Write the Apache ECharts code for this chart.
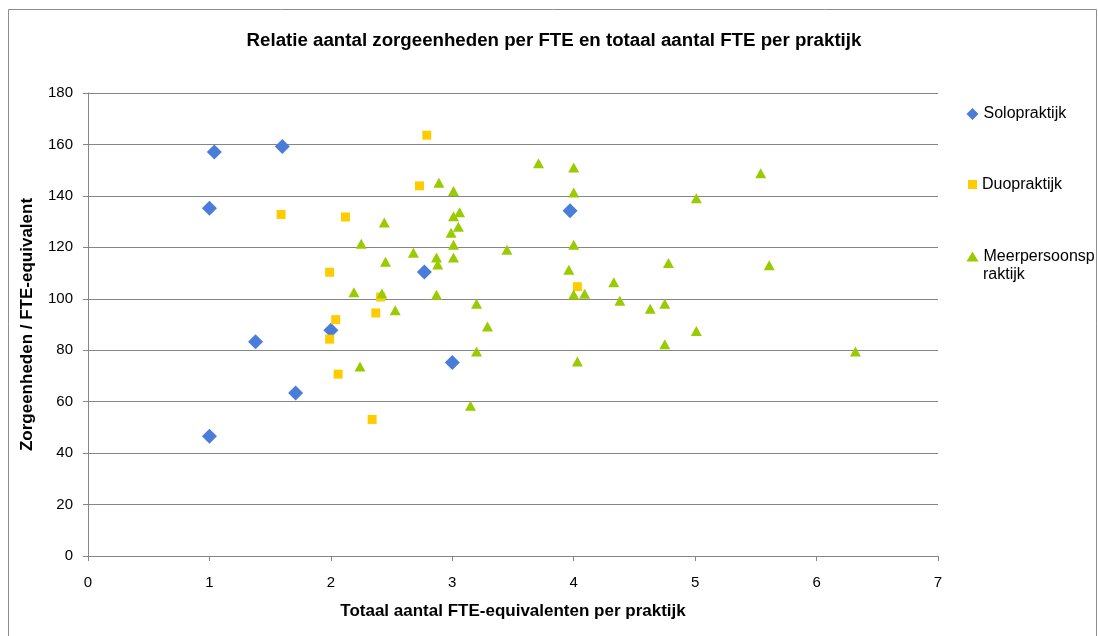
<!DOCTYPE html>
<html><head><meta charset="utf-8">
<script src="https://cdn.jsdelivr.net/npm/echarts@6/dist/echarts.min.js"></script>
<style>html,body{margin:0;padding:0;background:#fff}#c{width:1098px;height:636px}</style>
</head><body><div id="c"></div>
<script>
const seriesNames = ['Solopraktijk', 'Duopraktijk', 'Meerpersoonspraktijk'];
const legendLabels = ['Solopraktijk', 'Duopraktijk', 'Meerpersoonsp'];
const legendSecondLine = 'raktijk';
const xTicks = [0, 1, 2, 3, 4, 5, 6, 7];
const yTicks = [0, 20, 40, 60, 80, 100, 120, 140, 160, 180];

const soloX = [1.00, 1.04, 1.60, 3.97, 2.77, 1.38, 2.00, 1.71, 3.00, 1.00];
const soloY = [135.2, 157.1, 159.2, 134.2, 110.4, 83.3, 87.8, 63.4, 75.2, 46.6];

const duoX = [2.79, 2.73, 1.59, 2.12, 1.99, 2.41, 2.37, 2.04, 1.99, 2.06, 2.34, 4.03];
const duoY = [163.6, 143.9, 132.8, 131.8, 110.3, 100.7, 94.5, 91.9, 84.3, 70.7, 53.1, 104.7];

const meerX = [2.89, 3.01, 3.06, 3.01, 2.44, 3.05, 2.99, 2.25, 3.01, 2.68, 2.87, 3.01, 2.45, 2.88,
  2.19, 2.42, 2.87, 3.20, 2.53, 3.29, 2.24, 3.20, 3.15,
  3.71, 4.00, 5.54, 4.00, 5.01, 3.45, 4.00, 4.78, 5.61, 3.96, 4.33, 4.00, 4.09, 4.38, 4.75, 4.63,
  5.01, 4.75, 6.32, 4.03];
const meerY = [145.1, 141.9, 133.6, 132.1, 129.7, 128.0, 125.7, 121.4, 121.0, 117.9, 116.0, 116.0, 114.4, 113.3,
  102.5, 102.1, 101.6, 98.1, 95.5, 89.2, 73.7, 79.5, 58.4,
  152.7, 151.0, 148.8, 141.3, 139.1, 119.1, 121.0, 113.9, 113.0, 111.3, 106.4, 101.7, 102.0, 99.2, 98.1, 96.1,
  87.5, 82.3, 79.5, 75.6];

const zip = (xs, ys) => xs.map((x, i) => [x, ys[i]]);
const FONT = '"Liberation Sans", Arial, sans-serif';
const GRID = '#868686';

const chart = echarts.init(document.getElementById('c'), null, {renderer: 'canvas'});
const legendTops = [104.5, 175, 247];
const legendLefts = [966.5, 968, 966.5];
const legendIcons = ['diamond', 'rect', 'triangle'];
const legendSizes = [[12, 12], [9, 9], [12, 10]];

chart.setOption({
  animation: false,
  backgroundColor: '#fff',
  graphic: [{
    type: 'rect', silent: true, z: -1,
    shape: {x: 8.5, y: 9.5, width: 1088, height: 640},
    style: {fill: 'none', stroke: '#8c8c8c', lineWidth: 1}
  }, {
    type: 'text', silent: true,
    x: 983, y: 275,
    style: {text: legendSecondLine, font: '16px ' + FONT, fill: '#000', verticalAlign: 'middle'}
  }],
  title: {
    text: 'Relatie aantal zorgeenheden per FTE en totaal aantal FTE per praktijk',
    left: 554, top: 31.5, textAlign: 'center', padding: 0,
    textStyle: {fontFamily: FONT, fontSize: 18.7, fontWeight: 'bold', color: '#000'}
  },
  legend: seriesNames.map((n, i) => ({
    data: [{name: n, icon: legendIcons[i]}],
    left: legendLefts[i], top: legendTops[i], padding: 0,
    itemWidth: legendSizes[i][0], itemHeight: legendSizes[i][1],
    itemGap: 0,
    formatter: () => legendLabels[i],
    textStyle: {fontFamily: FONT, fontSize: 16, color: '#000', lineHeight: 19}
  })),
  grid: {left: 88, top: 93, width: 850, height: 463, containLabel: false},
  xAxis: {
    type: 'value', min: 0, max: 7, interval: 1,
    name: 'Totaal aantal FTE-equivalenten per praktijk',
    nameLocation: 'middle', nameGap: 47,
    nameTextStyle: {fontFamily: FONT, fontSize: 17, fontWeight: 'bold', color: '#000'},
    axisLine: {show: true, onZero: false, lineStyle: {color: GRID, width: 1}},
    axisTick: {show: true, inside: false, length: 5, lineStyle: {color: GRID}},
    axisLabel: {fontFamily: FONT, fontSize: 15, color: '#000', margin: 19,
      formatter: v => xTicks.includes(v) ? String(v) : ''},
    splitLine: {show: false}
  },
  yAxis: {
    type: 'value', min: 0, max: 180, interval: 20,
    name: 'Zorgeenheden / FTE-equivalent',
    nameLocation: 'middle', nameGap: 52, nameRotate: 90,
    nameTextStyle: {fontFamily: FONT, fontSize: 17, fontWeight: 'bold', color: '#000'},
    axisLine: {show: true, lineStyle: {color: GRID, width: 1}},
    axisTick: {show: true, inside: false, length: 5, lineStyle: {color: GRID}},
    axisLabel: {fontFamily: FONT, fontSize: 15, color: '#000', margin: 15,
      formatter: v => yTicks.includes(v) ? String(v) : ''},
    splitLine: {show: true, lineStyle: {color: GRID, width: 1}}
  },
  series: [
    {name: seriesNames[0], type: 'scatter', symbol: 'diamond', symbolSize: [15, 15],
      itemStyle: {color: '#4A7DDA', opacity: 1}, data: zip(soloX, soloY)},
    {name: seriesNames[1], type: 'scatter', symbol: 'rect', symbolSize: [9, 9],
      itemStyle: {color: '#FFCC00', opacity: 1}, data: zip(duoX, duoY)},
    {name: seriesNames[2], type: 'scatter', symbol: 'triangle', symbolSize: [11, 10],
      itemStyle: {color: '#99CC00', opacity: 1}, data: zip(meerX, meerY)}
  ]
});
</script></body></html>
